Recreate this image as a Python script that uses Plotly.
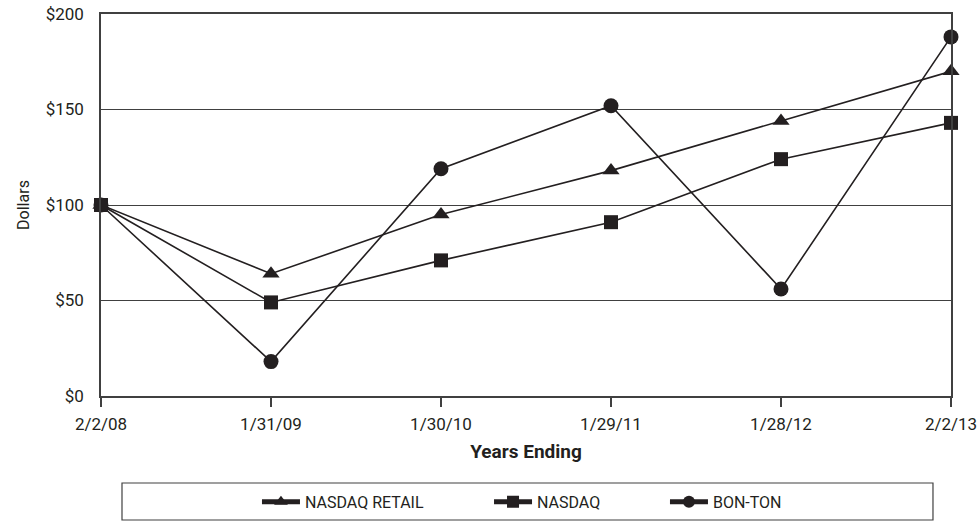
import plotly.graph_objects as go

years = ["2/2/08", "1/31/09", "1/30/10", "1/29/11", "1/28/12", "2/2/13"]
nasdaq_retail = [100, 64, 95, 118, 144, 170]
nasdaq = [100, 49, 71, 91, 124, 143]
bon_ton = [100, 18, 119, 152, 56, 188]
y_ticks = [0, 50, 100, 150, 200]
y_tick_text = ["$0", "$50", "$100", "$150", "$200"]

FONT = "Roboto, sans-serif"
INK = "#231f20"
GRID = "#404040"

series = [
    ("NASDAQ RETAIL", nasdaq_retail, "triangle-up", 15, "legend"),
    ("NASDAQ", nasdaq, "square", 14, "legend2"),
    ("BON-TON", bon_ton, "circle", 15, "legend3"),
]

fig = go.Figure()
for name, vals, sym, size, lg in series:
    fig.add_trace(go.Scatter(
        x=list(range(len(years))), y=vals, name=name, mode="lines+markers",
        line=dict(color=INK, width=1.6),
        marker=dict(symbol=sym, size=size, color=INK),
        cliponaxis=False, legend=lg,
    ))

def leg(x):
    return dict(orientation="h", x=x, xanchor="left", y=-0.277, yanchor="middle",
                itemsizing="constant", itemwidth=38, font=dict(family=FONT, size=16, color=INK),
                bgcolor="rgba(0,0,0,0)", borderwidth=0)

fig.update_layout(
    width=980, height=521,
    margin=dict(l=101, r=29, t=14, b=125, autoexpand=False),
    paper_bgcolor="white", plot_bgcolor="white",
    font=dict(family=FONT, size=17, color=INK),
    showlegend=True,
    legend=leg(0.1835), legend2=leg(0.4565), legend3=leg(0.6635),
    shapes=[dict(type="rect", xref="paper", yref="paper", x0=0.0247, x1=0.9788,
                 y0=-0.3246, y1=-0.2277, line=dict(color=GRID, width=1.2))],
)
fig.update_xaxes(
    range=[0, 5], tickmode="array", tickvals=list(range(len(years))), ticktext=years,
    ticks="outside", ticklen=9, tickcolor=GRID, tickwidth=1.5, ticklabelstandoff=3,
    showline=True, linecolor=GRID, linewidth=1.5, mirror=True,
    showgrid=False, zeroline=False,
    title=dict(text="<b>Years Ending</b>", font=dict(family=FONT, size=19, color=INK), standoff=12),
)
fig.update_yaxes(
    range=[0, 200], tickmode="array", tickvals=y_ticks, ticktext=y_tick_text,
    ticks="", ticklabelstandoff=12,
    showline=True, linecolor=GRID, linewidth=1.5, mirror=True,
    showgrid=True, gridcolor=GRID, gridwidth=1, zeroline=False,
    title=dict(text="Dollars", font=dict(family=FONT, size=16, color=INK), standoff=12),
)
fig.write_html("out.html")
